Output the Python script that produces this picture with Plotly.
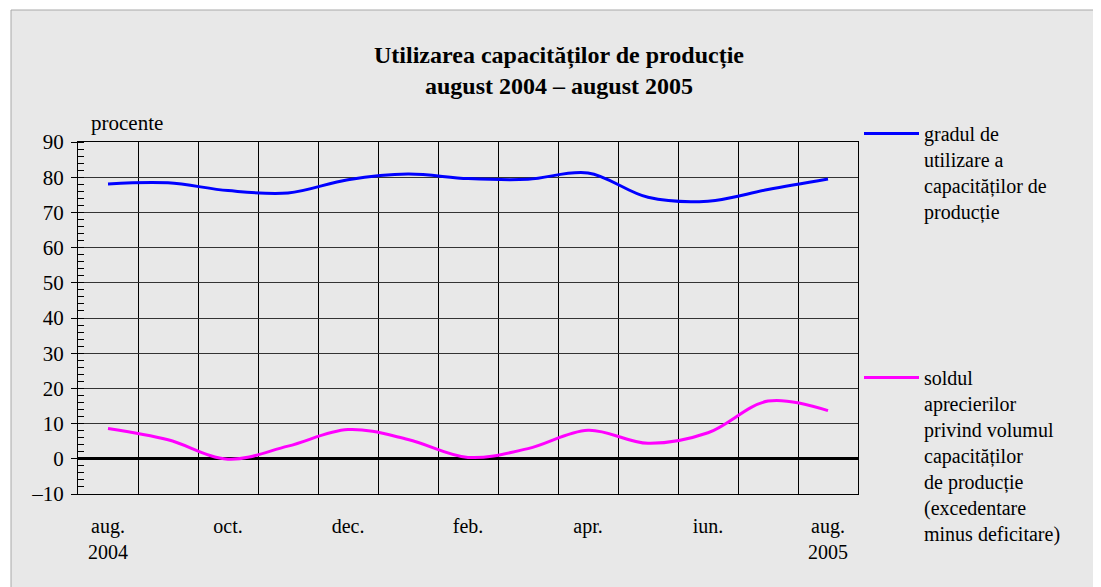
import plotly.graph_objects as go

months = list(range(13))
month_labels = ["aug.<br>2004", "oct.", "dec.", "feb.", "apr.", "iun.", "aug.<br>2005"]
label_positions = [0, 2, 4, 6, 8, 10, 12]
boundaries = [i - 0.5 for i in range(14)]

utilizare = [78.1, 78.4, 76.2, 75.5, 79.3, 80.9, 79.6, 79.4, 81.2, 74.3, 73.2, 76.5, 79.5]
sold = [8.6, 5.4, -0.1, 3.6, 8.3, 5.5, 0.4, 2.9, 8.1, 4.4, 7.4, 16.4, 13.7]

y_ticks = list(range(-10, 100, 10))
y_ticktext = ["–10"] + [str(v) for v in y_ticks[1:]]

FONT = "Liberation Serif"

fig = go.Figure()
fig.add_trace(go.Scatter(
    x=months, y=utilizare, mode="lines", line=dict(color="#0000ff", width=3, shape="spline"),
    name="gradul de<br>utilizare a<br>capacităților de<br>producție", legend="legend", showlegend=True))
fig.add_trace(go.Scatter(
    x=months, y=sold, mode="lines", line=dict(color="#ff00ff", width=3, shape="spline"),
    name="soldul<br>aprecierilor<br>privind volumul<br>capacităților<br>de producție<br>(excedentare<br>minus deficitare)",
    legend="legend2", showlegend=True))

W, H = 1101, 587
OFF = 8  # page body margin
L, R, T, B = 78 - OFF, 858 - OFF, 142 - OFF, 494 - OFF
pw, ph = R - L, B - T

def px_x(p):
    return (p - OFF - L) / pw

def px_y(p):
    return (B - (p - OFF)) / ph

ITEMW = 55

fig.update_layout(
    width=W, height=H,
    margin=dict(l=L, r=W - R, t=T, b=H - B),
    paper_bgcolor="white",
    plot_bgcolor="white",
    showlegend=True,
    font=dict(family=FONT, size=20, color="black"),
    title=dict(text="<b>Utilizarea capacităților de producție<br>august 2004 – august 2005</b>",
               x=(559 - OFF) / W, xanchor="center", y=1 - 55 / H, yanchor="top",
               font=dict(family=FONT, size=24, color="black")),
    xaxis=dict(range=[-0.5, 12.5], tickmode="array", tickvals=label_positions, ticktext=month_labels,
               showgrid=False, ticks="", showline=True, linecolor="black", linewidth=1, mirror=True,
               ticklabelstandoff=14, zeroline=False, tickfont=dict(size=20),
               minor=dict(tickmode="array", tickvals=boundaries, showgrid=True, gridcolor="black",
                          gridwidth=1, ticks="")),
    yaxis=dict(range=[-10, 90], tickmode="array", tickvals=y_ticks, ticktext=y_ticktext,
               showgrid=True, gridcolor="#333333", gridwidth=1,
               ticks="outside", ticklen=6, tickcolor="black", tickfont=dict(size=21),
               showline=True, linecolor="black", linewidth=1, mirror=True,
               zeroline=True, zerolinecolor="black", zerolinewidth=3,
               ticklabelstandoff=3,
               minor=dict(dtick=2, ticks="inside", ticklen=6, tickcolor="black", showgrid=False)),
    legend=dict(x=px_x(925 - ITEMW - 11), y=px_y(114), xanchor="left", yanchor="top", valign="top",
                itemwidth=ITEMW, bgcolor="rgba(0,0,0,0)", font=dict(family=FONT, size=20)),
    legend2=dict(x=px_x(925 - ITEMW - 11), y=px_y(358), xanchor="left", yanchor="top", valign="top",
                 itemwidth=ITEMW, bgcolor="rgba(0,0,0,0)", font=dict(family=FONT, size=20)),
    shapes=[dict(type="rect", xref="paper", yref="paper", layer="below",
                 x0=px_x(11), x1=px_x(W + 20), y0=px_y(H + 20), y1=px_y(10),
                 fillcolor="#e8e8e8", line=dict(color="#a8a8a8", width=1))],
    annotations=[dict(text="procente", xref="paper", yref="paper", x=px_x(89), y=px_y(123),
                      xanchor="left", yanchor="middle", showarrow=False,
                      font=dict(family=FONT, size=21))],
)

fig.write_html("out.html")
